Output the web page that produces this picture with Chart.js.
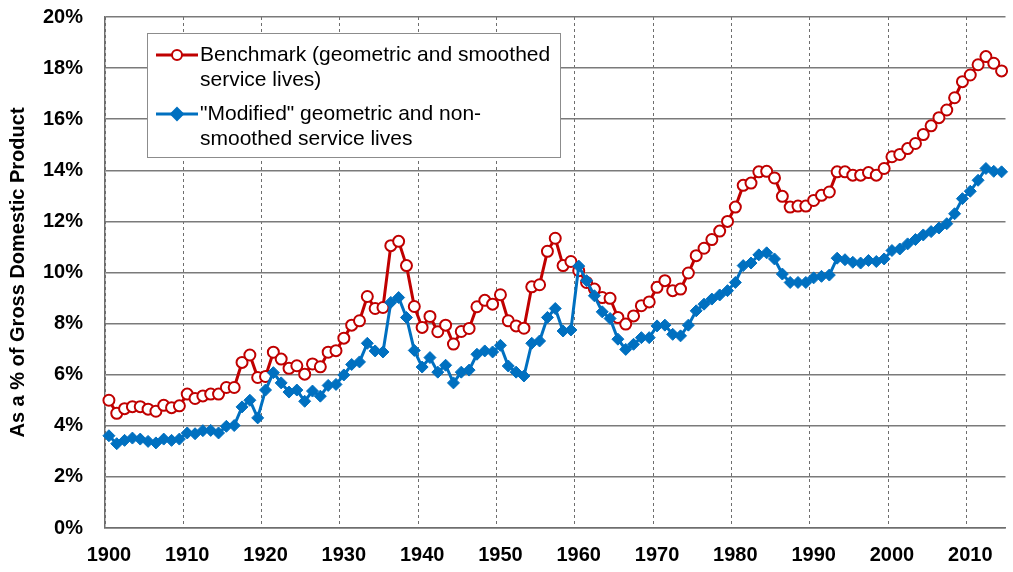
<!DOCTYPE html>
<html>
<head>
<meta charset="utf-8">
<script src="https://cdn.jsdelivr.net/npm/chart.js@4.4.1/dist/chart.umd.min.js"></script>
<style>
  html, body { margin: 0; padding: 0; background: #fff; }
  #wrap { width: 1013px; height: 572px; position: relative; }
</style>
</head>
<body>
<div id="wrap"><canvas id="chart"></canvas></div>
<script>
// years 1900 .. 2014
const years = [];
for (let y = 1900; y <= 2014; y++) years.push(String(y));

// Benchmark (geometric and smoothed service lives), % of GDP
const benchmark = [
  5.00, 4.49, 4.67, 4.75, 4.75, 4.65, 4.57, 4.80, 4.71, 4.78,
  5.24, 5.07, 5.17, 5.24, 5.24, 5.50, 5.50, 6.48, 6.77, 5.89,
  5.93, 6.88, 6.61, 6.25, 6.35, 6.02, 6.42, 6.31, 6.88, 6.94,
  7.43, 7.94, 8.11, 9.06, 8.59, 8.63, 11.05, 11.22, 10.27, 8.67,
  7.85, 8.28, 7.68, 7.94, 7.20, 7.69, 7.81, 8.66, 8.91, 8.76,
  9.13, 8.11, 7.91, 7.82, 9.44, 9.52, 10.83, 11.34, 10.27, 10.43,
  10.07, 9.61, 9.35, 9.02, 8.99, 8.24, 7.98, 8.30, 8.70, 8.85,
  9.42, 9.68, 9.29, 9.35, 9.98, 10.66, 10.95, 11.29, 11.62, 12.00,
  12.56, 13.41, 13.50, 13.94, 13.96, 13.70, 12.98, 12.56, 12.60, 12.60,
  12.82, 13.02, 13.15, 13.94, 13.94, 13.81, 13.81, 13.91, 13.81, 14.07,
  14.53, 14.62, 14.85, 15.05, 15.40, 15.74, 16.06, 16.36, 16.84, 17.47,
  17.73, 18.13, 18.45, 18.19, 17.89
];

// "Modified" geometric and non-smoothed service lives, % of GDP
const modified = [
  3.61, 3.30, 3.43, 3.52, 3.48, 3.39, 3.33, 3.48, 3.43, 3.48,
  3.72, 3.69, 3.81, 3.82, 3.72, 3.98, 4.01, 4.74, 5.00, 4.31,
  5.40, 6.08, 5.68, 5.32, 5.40, 4.96, 5.36, 5.16, 5.58, 5.62,
  5.99, 6.40, 6.50, 7.23, 6.93, 6.89, 8.83, 9.02, 8.24, 6.95,
  6.30, 6.67, 6.10, 6.37, 5.68, 6.10, 6.18, 6.80, 6.93, 6.89,
  7.15, 6.34, 6.10, 5.95, 7.23, 7.32, 8.24, 8.59, 7.71, 7.75,
  10.25, 9.68, 9.09, 8.46, 8.20, 7.39, 6.99, 7.19, 7.45, 7.45,
  7.91, 7.94, 7.58, 7.52, 7.94, 8.50, 8.76, 8.96, 9.12, 9.29,
  9.61, 10.27, 10.37, 10.69, 10.77, 10.53, 9.94, 9.61, 9.61, 9.61,
  9.79, 9.85, 9.90, 10.56, 10.50, 10.40, 10.37, 10.47, 10.43, 10.53,
  10.86, 10.92, 11.12, 11.29, 11.47, 11.60, 11.74, 11.91, 12.30, 12.89,
  13.18, 13.61, 14.07, 13.96, 13.94
];

const legendLines = [
  ['Benchmark (geometric and smoothed', 'service lives)'],
  ['"Modified" geometric and non-', 'smoothed service lives']
];

const RED = '#C00000';
const BLUE = '#0070C0';

// legend drawn as a boxed panel inside the plot, like the original
const boxLegend = {
  id: 'boxLegend',
  afterDraw(chart) {
    const ctx = chart.ctx;
    ctx.save();
    ctx.fillStyle = '#fff';
    ctx.fillRect(147.5, 33.5, 413, 124);
    ctx.strokeStyle = '#8c8c8c';
    ctx.lineWidth = 1;
    ctx.strokeRect(147.5, 33.5, 413, 124);

    const rows = [55, 114];
    ctx.font = '21px "Liberation Sans", Arial, sans-serif';
    ctx.textBaseline = 'middle';
    ctx.textAlign = 'left';
    rows.forEach((y, i) => {
      const ds = chart.data.datasets[i];
      ctx.strokeStyle = ds.borderColor;
      ctx.lineWidth = 3;
      ctx.beginPath();
      ctx.moveTo(156, y);
      ctx.lineTo(198, y);
      ctx.stroke();
      ctx.lineWidth = 2;
      ctx.fillStyle = ds.pointBackgroundColor;
      ctx.strokeStyle = ds.pointBorderColor;
      ctx.beginPath();
      if (ds.pointStyle === 'circle') {
        ctx.arc(177, y, 5, 0, Math.PI * 2);
      } else {
        ctx.moveTo(177, y - 6);
        ctx.lineTo(183, y);
        ctx.lineTo(177, y + 6);
        ctx.lineTo(171, y);
        ctx.closePath();
      }
      ctx.fill();
      ctx.stroke();
      ctx.fillStyle = '#000';
      ctx.fillText(legendLines[i][0], 200, y);
      ctx.fillText(legendLines[i][1], 200, y + 25);
    });
    ctx.restore();
  }
};

const ctx = document.getElementById('chart').getContext('2d');
new Chart(ctx, {
  type: 'line',
  data: {
    labels: years,
    datasets: [
      {
        label: 'Benchmark (geometric and smoothed service lives)',
        data: benchmark,
        borderColor: RED,
        borderWidth: 3,
        pointStyle: 'circle',
        pointRadius: 5.5,
        pointBorderWidth: 2,
        pointBackgroundColor: '#fff',
        pointBorderColor: RED,
        tension: 0,
        order: 1
      },
      {
        label: '"Modified" geometric and non-smoothed service lives',
        data: modified,
        borderColor: BLUE,
        borderWidth: 3,
        pointStyle: 'rectRot',
        pointRadius: 6,
        pointBorderWidth: 1,
        pointBackgroundColor: BLUE,
        pointBorderColor: BLUE,
        tension: 0,
        order: 0
      }
    ]
  },
  options: {
    responsive: true,
    maintainAspectRatio: false,
    animation: false,
    layout: { padding: { top: 4, right: 2, left: 0, bottom: 0 } },
    plugins: {
      legend: { display: false },
      tooltip: { enabled: false }
    },
    scales: {
      x: {
        type: 'category',
        offset: true,
        grid: {
          offset: true,
          color: (c) => (c.type === 'tick' && c.index % 10 === 0 ? '#6e6e6e' : 'rgba(0,0,0,0)'),
          lineWidth: 1,
          tickLength: 13,
          tickColor: 'rgba(0,0,0,0)'
        },
        border: { display: true, color: '#6e6e6e', width: 1.5, dash: [3, 3] },
        ticks: {
          autoSkip: false,
          maxRotation: 0,
          padding: 2,
          color: '#000',
          font: { family: '"Liberation Sans Narrow", "Arial Narrow", "Liberation Sans", Arial, sans-serif', size: 20, weight: 'bold' },
          callback: function (val) {
            const y = this.getLabelForValue(val);
            return Number(y) % 10 === 0 ? y : '';
          }
        },
        afterFit: (s) => { s.height = 44; s.paddingRight = 0; }
      },
      y: {
        min: 0,
        max: 20,
        grid: { color: '#7a7a7a', lineWidth: 1.5, drawTicks: true, tickLength: 17, tickColor: 'rgba(0,0,0,0)' },
        border: { display: true, color: '#6e6e6e', width: 1.5 },
        ticks: {
          stepSize: 2,
          padding: 5,
          color: '#000',
          font: { family: '"Liberation Sans", Arial, sans-serif', size: 20, weight: 'bold' },
          callback: (v) => v + '%'
        },
        title: {
          display: true,
          text: 'As a % of Gross Domestic Product',
          color: '#000',
          padding: { top: 6, bottom: 0 },
          font: { family: '"Liberation Sans", Arial, sans-serif', size: 20, weight: 'bold' }
        },
        afterFit: (s) => { s.width = 105; }
      }
    }
  },
  plugins: [boxLegend]
});
</script>
</body>
</html>
